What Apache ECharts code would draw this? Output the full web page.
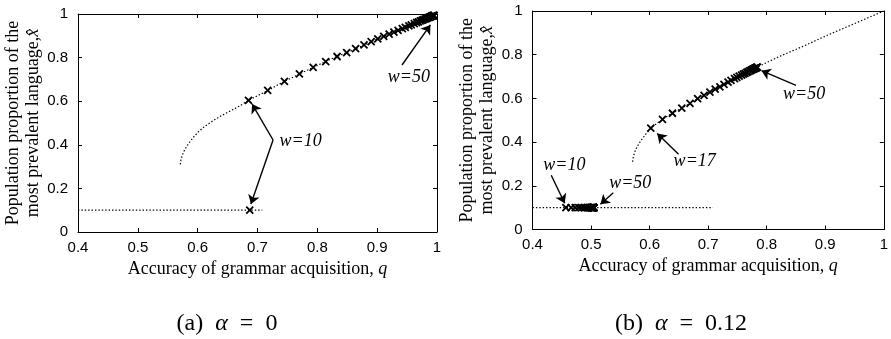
<!DOCTYPE html>
<html>
<head>
<meta charset="utf-8">
<script src="https://cdn.jsdelivr.net/npm/echarts@6/dist/echarts.min.js"></script>
<style>html,body{margin:0;padding:0;background:#fff}#c{width:891px;height:339px}</style>
</head>
<body>
<div id="c"></div>
<script>
// ---- data ----
const xTicks = [0.4, 0.5, 0.6, 0.7, 0.8, 0.9, 1];
const yTicks = [0, 0.2, 0.4, 0.6, 0.8, 1];

// upper-branch equilibrium curve (dotted), same in both panels
const curveQ = [0.571, 0.572, 0.574, 0.577, 0.581, 0.586, 0.593, 0.602, 0.612, 0.625, 0.64, 0.655, 0.67, 0.685, 0.70, 0.72, 0.74, 0.76, 0.78, 0.80, 0.82, 0.84, 0.86, 0.88, 0.90, 0.92, 0.94, 0.96, 0.98, 1.0];
const curveY = [0.31, 0.33, 0.35, 0.37, 0.39, 0.41, 0.435, 0.462, 0.485, 0.509, 0.534, 0.556, 0.578, 0.604, 0.625, 0.653, 0.684, 0.711, 0.738, 0.764, 0.79, 0.813, 0.836, 0.86, 0.885, 0.908, 0.931, 0.954, 0.977, 1.0];

// lower-branch equilibrium (dotted)
const lowQ = [0.4, 0.708];
const lowY = [0.1, 0.1];

// panel (a): markers w = 10..50 on the upper branch
const aMarkQ = [0.685, 0.717, 0.745, 0.770, 0.793, 0.814, 0.833, 0.849, 0.864, 0.878, 0.890, 0.901, 0.911, 0.920, 0.928, 0.935, 0.942, 0.947, 0.953, 0.957, 0.962, 0.966, 0.969, 0.972, 0.975, 0.977, 0.980, 0.982, 0.984, 0.985, 0.987, 0.988, 0.989, 0.990, 0.991, 0.992, 0.993, 0.994, 0.994, 0.995, 0.995];
const aMarkY = [0.604, 0.650, 0.691, 0.725, 0.755, 0.782, 0.805, 0.823, 0.841, 0.858, 0.873, 0.886, 0.897, 0.908, 0.917, 0.925, 0.933, 0.939, 0.946, 0.950, 0.956, 0.961, 0.964, 0.968, 0.971, 0.974, 0.977, 0.979, 0.982, 0.983, 0.985, 0.986, 0.987, 0.989, 0.990, 0.991, 0.992, 0.993, 0.993, 0.994, 0.994];
// panel (a): w = 10 marker on the lower branch
const aLowQ = [0.687];
const aLowY = [0.1];

// panel (b): markers w = 17..50 on the upper branch
const bMarkQ = [0.602, 0.622, 0.639, 0.655, 0.669, 0.682, 0.693, 0.703, 0.712, 0.720, 0.727, 0.734, 0.739, 0.745, 0.749, 0.753, 0.757, 0.760, 0.763, 0.766, 0.768, 0.771, 0.772, 0.774, 0.776, 0.777, 0.778, 0.779, 0.780, 0.781, 0.782, 0.783, 0.783, 0.784];
const bMarkY = [0.464, 0.504, 0.532, 0.556, 0.577, 0.599, 0.614, 0.629, 0.642, 0.653, 0.664, 0.675, 0.682, 0.691, 0.696, 0.702, 0.707, 0.711, 0.715, 0.719, 0.722, 0.726, 0.727, 0.730, 0.733, 0.734, 0.735, 0.737, 0.738, 0.739, 0.741, 0.742, 0.742, 0.743];
// panel (b): markers w = 10..50 on the lower branch
const bLowQ = [0.457, 0.466, 0.473, 0.479, 0.484, 0.488, 0.491, 0.494, 0.496, 0.497, 0.499, 0.500, 0.501, 0.5015, 0.502, 0.5025, 0.503, 0.5032, 0.5034, 0.5036, 0.5038, 0.504, 0.5041, 0.5042, 0.5043, 0.5043, 0.5044, 0.5044, 0.5044, 0.5045, 0.5045, 0.5045, 0.5045, 0.5045, 0.5045, 0.5045, 0.5045, 0.5045, 0.5045, 0.5045, 0.5045];
const bLowY = [0.1, 0.1, 0.1, 0.1, 0.1, 0.1, 0.1, 0.1, 0.1, 0.1, 0.1, 0.1, 0.1, 0.1, 0.1, 0.1, 0.1, 0.1, 0.1, 0.1, 0.1, 0.1, 0.1, 0.1, 0.1, 0.1, 0.1, 0.1, 0.1, 0.1, 0.1, 0.1, 0.1, 0.1, 0.1, 0.1, 0.1, 0.1, 0.1, 0.1, 0.1];

// annotations (text, anchor in data units)
const aNoteText = ['w=10', 'w=50'];
const aNoteQ = [0.772, 0.953];
const aNoteY = [0.414, 0.711];
const aArrows = [[[0.726, 0.422], [0.691, 0.587]], [[0.726, 0.422], [0.689, 0.128]], [[0.9415, 0.766], [0.989, 0.950]]];

const bNoteText = ['w=10', 'w=50', 'w=17', 'w=50'];
const bNoteQ = [0.4545, 0.567, 0.677, 0.864];
const bNoteY = [0.294, 0.21, 0.312, 0.618];
const bArrows = [[[0.432, 0.248], [0.455, 0.12]], [[0.538, 0.168], [0.516, 0.116]], [[0.6495, 0.344], [0.613, 0.439]], [[0.850, 0.66], [0.791, 0.727]]];

const captions = ['(a)\u2002{a|α}\u2002=\u20020', '(b)\u2002{a|α}\u2002=\u20020.12'];

// ---- build ----
const zip = (a, b) => a.map((v, i) => [v, b[i]]);
const SANS = 'Liberation Sans, Arial, sans-serif';
const SERIF = 'Liberation Serif, Times New Roman, serif';
const crossPath = 'path://M0,0L10,10M10,0L0,10';

function xAxes(grid) {
  const base = {
    gridIndex: grid, type: 'value', min: 0.4, max: 1, interval: 0.1,
    axisLine: { show: true, onZero: false, lineStyle: { color: '#000', width: 1 } },
    axisTick: { show: true, inside: true, length: 4, lineStyle: { color: '#000' } },
    splitLine: { show: false }
  };
  return [
    Object.assign({}, base, {
      position: 'bottom',
      axisLabel: { color: '#000', fontFamily: SANS, fontSize: 15, margin: 8, alignMaxLabel: 'center', alignMinLabel: 'center' },
      name: 'Accuracy of grammar acquisition, {i|q}',
      nameLocation: 'middle', nameGap: 20,
      nameTextStyle: { color: '#000', fontFamily: SERIF, fontSize: 18,
        rich: { i: { fontStyle: 'italic', fontFamily: SERIF, fontSize: 18, color: '#000' } } }
    }),
    Object.assign({}, base, { position: 'top', axisLabel: { show: false } })
  ];
}
function yAxes(grid) {
  const base = {
    gridIndex: grid, type: 'value', min: 0, max: 1, interval: 0.2,
    axisLine: { show: true, onZero: false, lineStyle: { color: '#000', width: 1 } },
    axisTick: { show: true, inside: true, length: 4, lineStyle: { color: '#000' } },
    splitLine: { show: false }
  };
  return [
    Object.assign({}, base, {
      position: 'left',
      axisLabel: { color: '#000', fontFamily: SANS, fontSize: 15, margin: 10 },
      name: 'Population proportion of the\nmost prevalent language,{i|x\u0302}',
      nameLocation: 'middle', nameGap: 30, nameRotate: 90,
      nameTextStyle: { color: '#000', fontFamily: SERIF, fontSize: 18, lineHeight: 20,
        rich: { i: { fontStyle: 'italic', fontFamily: SERIF, fontSize: 18, lineHeight: 20, color: '#000' } } }
    }),
    Object.assign({}, base, { position: 'right', axisLabel: { show: false } })
  ];
}

function dotted(xi, yi, data) {
  return { type: 'line', xAxisIndex: xi, yAxisIndex: yi, data: data, showSymbol: false, symbol: 'none',
    silent: true, z: 2, lineStyle: { color: '#000', width: 1.2, type: [1.4, 2] } };
}
function marks(xi, yi, data) {
  return { type: 'scatter', xAxisIndex: xi, yAxisIndex: yi, data: data, symbol: crossPath, symbolSize: 7,
    silent: true, z: 3, itemStyle: { color: 'rgba(0,0,0,0)', borderColor: '#000', borderWidth: 1.8, opacity: 1 } };
}
function notes(xi, yi, texts, qs, ys, arrows) {
  return { type: 'scatter', xAxisIndex: xi, yAxisIndex: yi, silent: true, z: 5,
    data: texts.map((t, i) => ({ name: t, value: [qs[i], ys[i]] })),
    symbolSize: 1, itemStyle: { color: '#fff', opacity: 1 },
    label: { show: true, position: 'inside', formatter: '{b}', color: '#000',
      textBorderWidth: 0, textBorderColor: 'transparent', opacity: 1,
      fontFamily: SERIF, fontStyle: 'italic', fontSize: 18 },
    markLine: { silent: true, symbol: ['none', 'arrow'], symbolSize: 9, animation: false,
      label: { show: false }, lineStyle: { color: '#000', width: 1.4, type: 'solid', opacity: 1 },
      emphasis: { disabled: true },
      data: arrows.map(a => [{ coord: a[0] }, { coord: a[1] }]) }
  };
}

const chart = echarts.init(document.getElementById('c'), null, { renderer: 'canvas' });
chart.setOption({
  animation: false,
  backgroundColor: '#fff',
  grid: [
    { left: 78, top: 14, width: 359, height: 218 },
    { left: 532.5, top: 11, width: 359, height: 218.5 }
  ],
  xAxis: xAxes(0).concat(xAxes(1)),
  yAxis: yAxes(0).concat(yAxes(1)),
  series: [
    dotted(0, 0, zip(curveQ, curveY)),
    dotted(0, 0, zip(lowQ, lowY)),
    marks(0, 0, zip(aMarkQ, aMarkY)),
    marks(0, 0, zip(aLowQ, aLowY)),
    notes(0, 0, aNoteText, aNoteQ, aNoteY, aArrows),
    dotted(2, 2, zip(curveQ, curveY)),
    dotted(2, 2, zip(lowQ, lowY)),
    marks(2, 2, zip(bMarkQ, bMarkY)),
    marks(2, 2, zip(bLowQ, bLowY)),
    notes(2, 2, bNoteText, bNoteQ, bNoteY, bArrows)
  ],
  graphic: [
    { type: 'text', x: 227, y: 324, silent: true,
      style: { text: captions[0], align: 'center', verticalAlign: 'middle', fill: '#000',
        font: '24px ' + SERIF, rich: { a: { fontStyle: 'italic', fontSize: 24, fontFamily: SERIF, fill: '#000' } } } },
    { type: 'text', x: 681, y: 324, silent: true,
      style: { text: captions[1], align: 'center', verticalAlign: 'middle', fill: '#000',
        font: '24px ' + SERIF, rich: { a: { fontStyle: 'italic', fontSize: 24, fontFamily: SERIF, fill: '#000' } } } }
  ]
});
</script>
</body>
</html>
